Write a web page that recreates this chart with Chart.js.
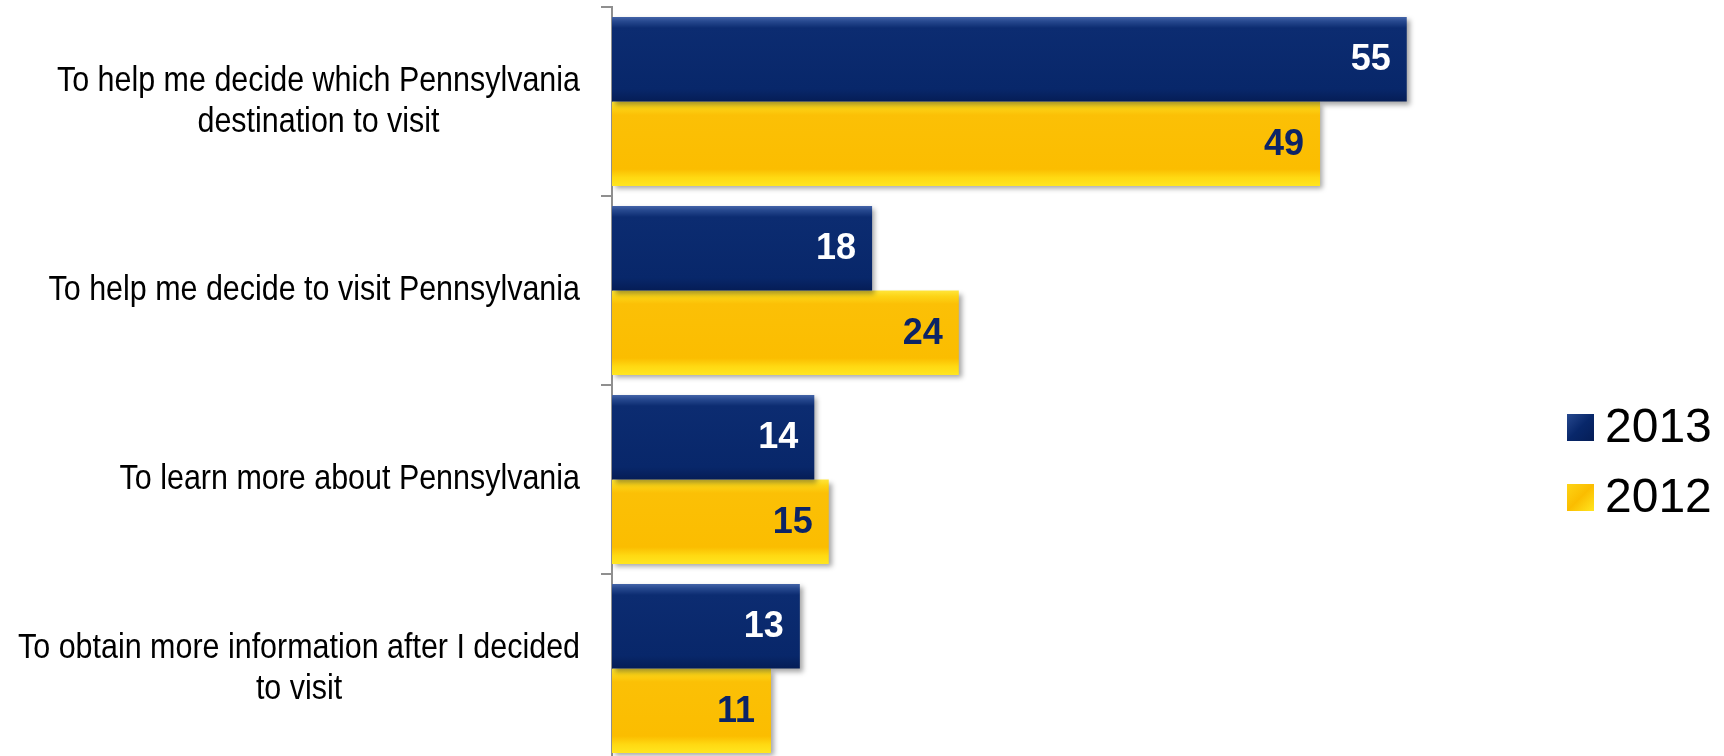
<!DOCTYPE html>
<html>
<head>
<meta charset="utf-8">
<script src="https://cdn.jsdelivr.net/npm/chart.js@4.4.1/dist/chart.umd.min.js"></script>
<style>
  html, body { margin: 0; padding: 0; background: #fff; overflow: hidden; }
  #wrap { width: 1724px; height: 766px; position: relative; }
</style>
</head>
<body>
<div id="wrap"><canvas id="myChart"></canvas></div>
<script>
const categories = [
    ['To help me decide which Pennsylvania', 'destination to visit'],
    ['To help me decide to visit Pennsylvania'],
    ['To learn more about Pennsylvania'],
    ['To obtain more information after I decided', 'to visit']
];
const seriesNames = ['2013', '2012'];
const values2013 = [55, 18, 14, 13];
const values2012 = [49, 24, 15, 11];

const FONT = '"Liberation Sans", Arial, sans-serif';
const CAT_PCT = 0.894;

// bevel-ish gradients, like the office 3d bars
const navyStops = [[0, '#4464a8'], [0.05, '#27498f'], [0.13, '#0c2c71'], [0.85, '#08276a'], [1, '#051d56']];
const goldStops = [[0, '#ffe53a'], [0.07, '#fdd416'], [0.16, '#fbc006'], [0.8, '#fbbd00'], [0.9, '#ffd912'], [1, '#ffe620']];

function barFill(context, stops, first) {
    const chart = context.chart;
    const ys = chart.scales.y;
    if (!ys || !chart.chartArea) return stops[2][1];
    const cat = (ys.bottom - ys.top) / chart.data.labels.length;
    const h = cat * CAT_PCT / 2;
    const c = ys.getPixelForValue(context.dataIndex);
    const top = first ? c - h : c;
    const g = chart.ctx.createLinearGradient(0, top, 0, top + h);
    stops.forEach(s => g.addColorStop(s[0], s[1]));
    return g;
}

// soft shadow under the bars
const shadowPlugin = {
    id: 'barShadow',
    beforeDatasetDraw(chart) {
        const ctx = chart.ctx;
        ctx.save();
        ctx.shadowColor = 'rgba(0,0,0,0.35)';
        ctx.shadowBlur = 5;
        ctx.shadowOffsetX = 3;
        ctx.shadowOffsetY = 3;
    },
    afterDatasetDraw(chart) {
        chart.ctx.restore();
    }
};

// numbers at the end of each bar
const valueLabels = {
    id: 'valueLabels',
    afterDatasetsDraw(chart) {
        const ctx = chart.ctx;
        ctx.save();
        ctx.font = 'bold 36px ' + FONT;
        ctx.textAlign = 'right';
        ctx.textBaseline = 'middle';
        chart.data.datasets.forEach((ds, di) => {
            ctx.fillStyle = di === 0 ? '#ffffff' : '#0c2466';
            chart.getDatasetMeta(di).data.forEach((bar, i) => {
                ctx.fillText(ds.data[i], bar.x - 16, bar.y + 1);
            });
        });
        ctx.restore();
    }
};

// category labels: right-aligned block, lines centred inside it
const catLabels = {
    id: 'catLabels',
    afterDraw(chart) {
        const ctx = chart.ctx;
        const ys = chart.scales.y;
        const sx = 0.87, lh = 41, right = 580;
        ctx.save();
        ctx.font = '35px ' + FONT;
        ctx.fillStyle = '#000';
        ctx.textAlign = 'center';
        ctx.textBaseline = 'middle';
        chart.data.labels.forEach((lines, i) => {
            const w = Math.max(...lines.map(l => ctx.measureText(l).width * sx));
            const cx = right - w / 2;
            const cy = ys.getPixelForValue(i);
            lines.forEach((l, k) => {
                const y = cy + (k - (lines.length - 1) / 2) * lh;
                ctx.save();
                ctx.translate(cx, y);
                ctx.scale(sx, 1);
                ctx.fillText(l, 0, 0);
                ctx.restore();
            });
        });
        ctx.restore();
    }
};

const legendPlugin = {
    id: 'sideLegend',
    afterDraw(chart) {
        const ctx = chart.ctx;
        const x0 = chart.chartArea.right + 88;
        const rows = [427, 497];
        ctx.save();
        ctx.font = '48px ' + FONT;
        ctx.textBaseline = 'middle';
        ctx.textAlign = 'left';
        chart.data.datasets.forEach((ds, i) => {
            const y = rows[i];
            const stops = i === 0 ? navyStops : goldStops;
            const g = ctx.createLinearGradient(x0, y - 13, x0 + 27, y + 14);
            g.addColorStop(0, stops[1][1]);
            g.addColorStop(0.5, stops[3][1]);
            g.addColorStop(1, stops[stops.length - 1][1]);
            ctx.fillStyle = g;
            ctx.fillRect(x0, y - 13, 27, 27);
            ctx.fillStyle = '#000';
            ctx.fillText(ds.label, x0 + 38, y + 2);
        });
        ctx.restore();
    }
};

new Chart(document.getElementById('myChart'), {
    type: 'bar',
    data: {
        labels: categories,
        datasets: [
            {
                label: seriesNames[0],
                data: values2013,
                backgroundColor: c => barFill(c, navyStops, true),
                borderWidth: 0
            },
            {
                label: seriesNames[1],
                data: values2012,
                backgroundColor: c => barFill(c, goldStops, false),
                borderWidth: 0
            }
        ]
    },
    options: {
        indexAxis: 'y',
        responsive: true,
        maintainAspectRatio: false,
        animation: false,
        layout: { padding: { top: 7, right: 245, bottom: 3, left: 0 } },
        datasets: { bar: { categoryPercentage: CAT_PCT, barPercentage: 1 } },
        plugins: {
            legend: { display: false },
            tooltip: { enabled: false }
        },
        scales: {
            x: { display: false, min: 0, max: 60 },
            y: {
                afterFit: s => { s.width = 612; },
                ticks: { display: false },
                border: { display: true, color: '#8f8f8f', width: 2 },
                grid: {
                    display: true,
                    offset: true,
                    drawOnChartArea: false,
                    drawTicks: true,
                    tickLength: 11,
                    color: '#8f8f8f',
                    lineWidth: 2
                }
            }
        }
    },
    plugins: [shadowPlugin, valueLabels, catLabels, legendPlugin]
});
</script>
</body>
</html>
